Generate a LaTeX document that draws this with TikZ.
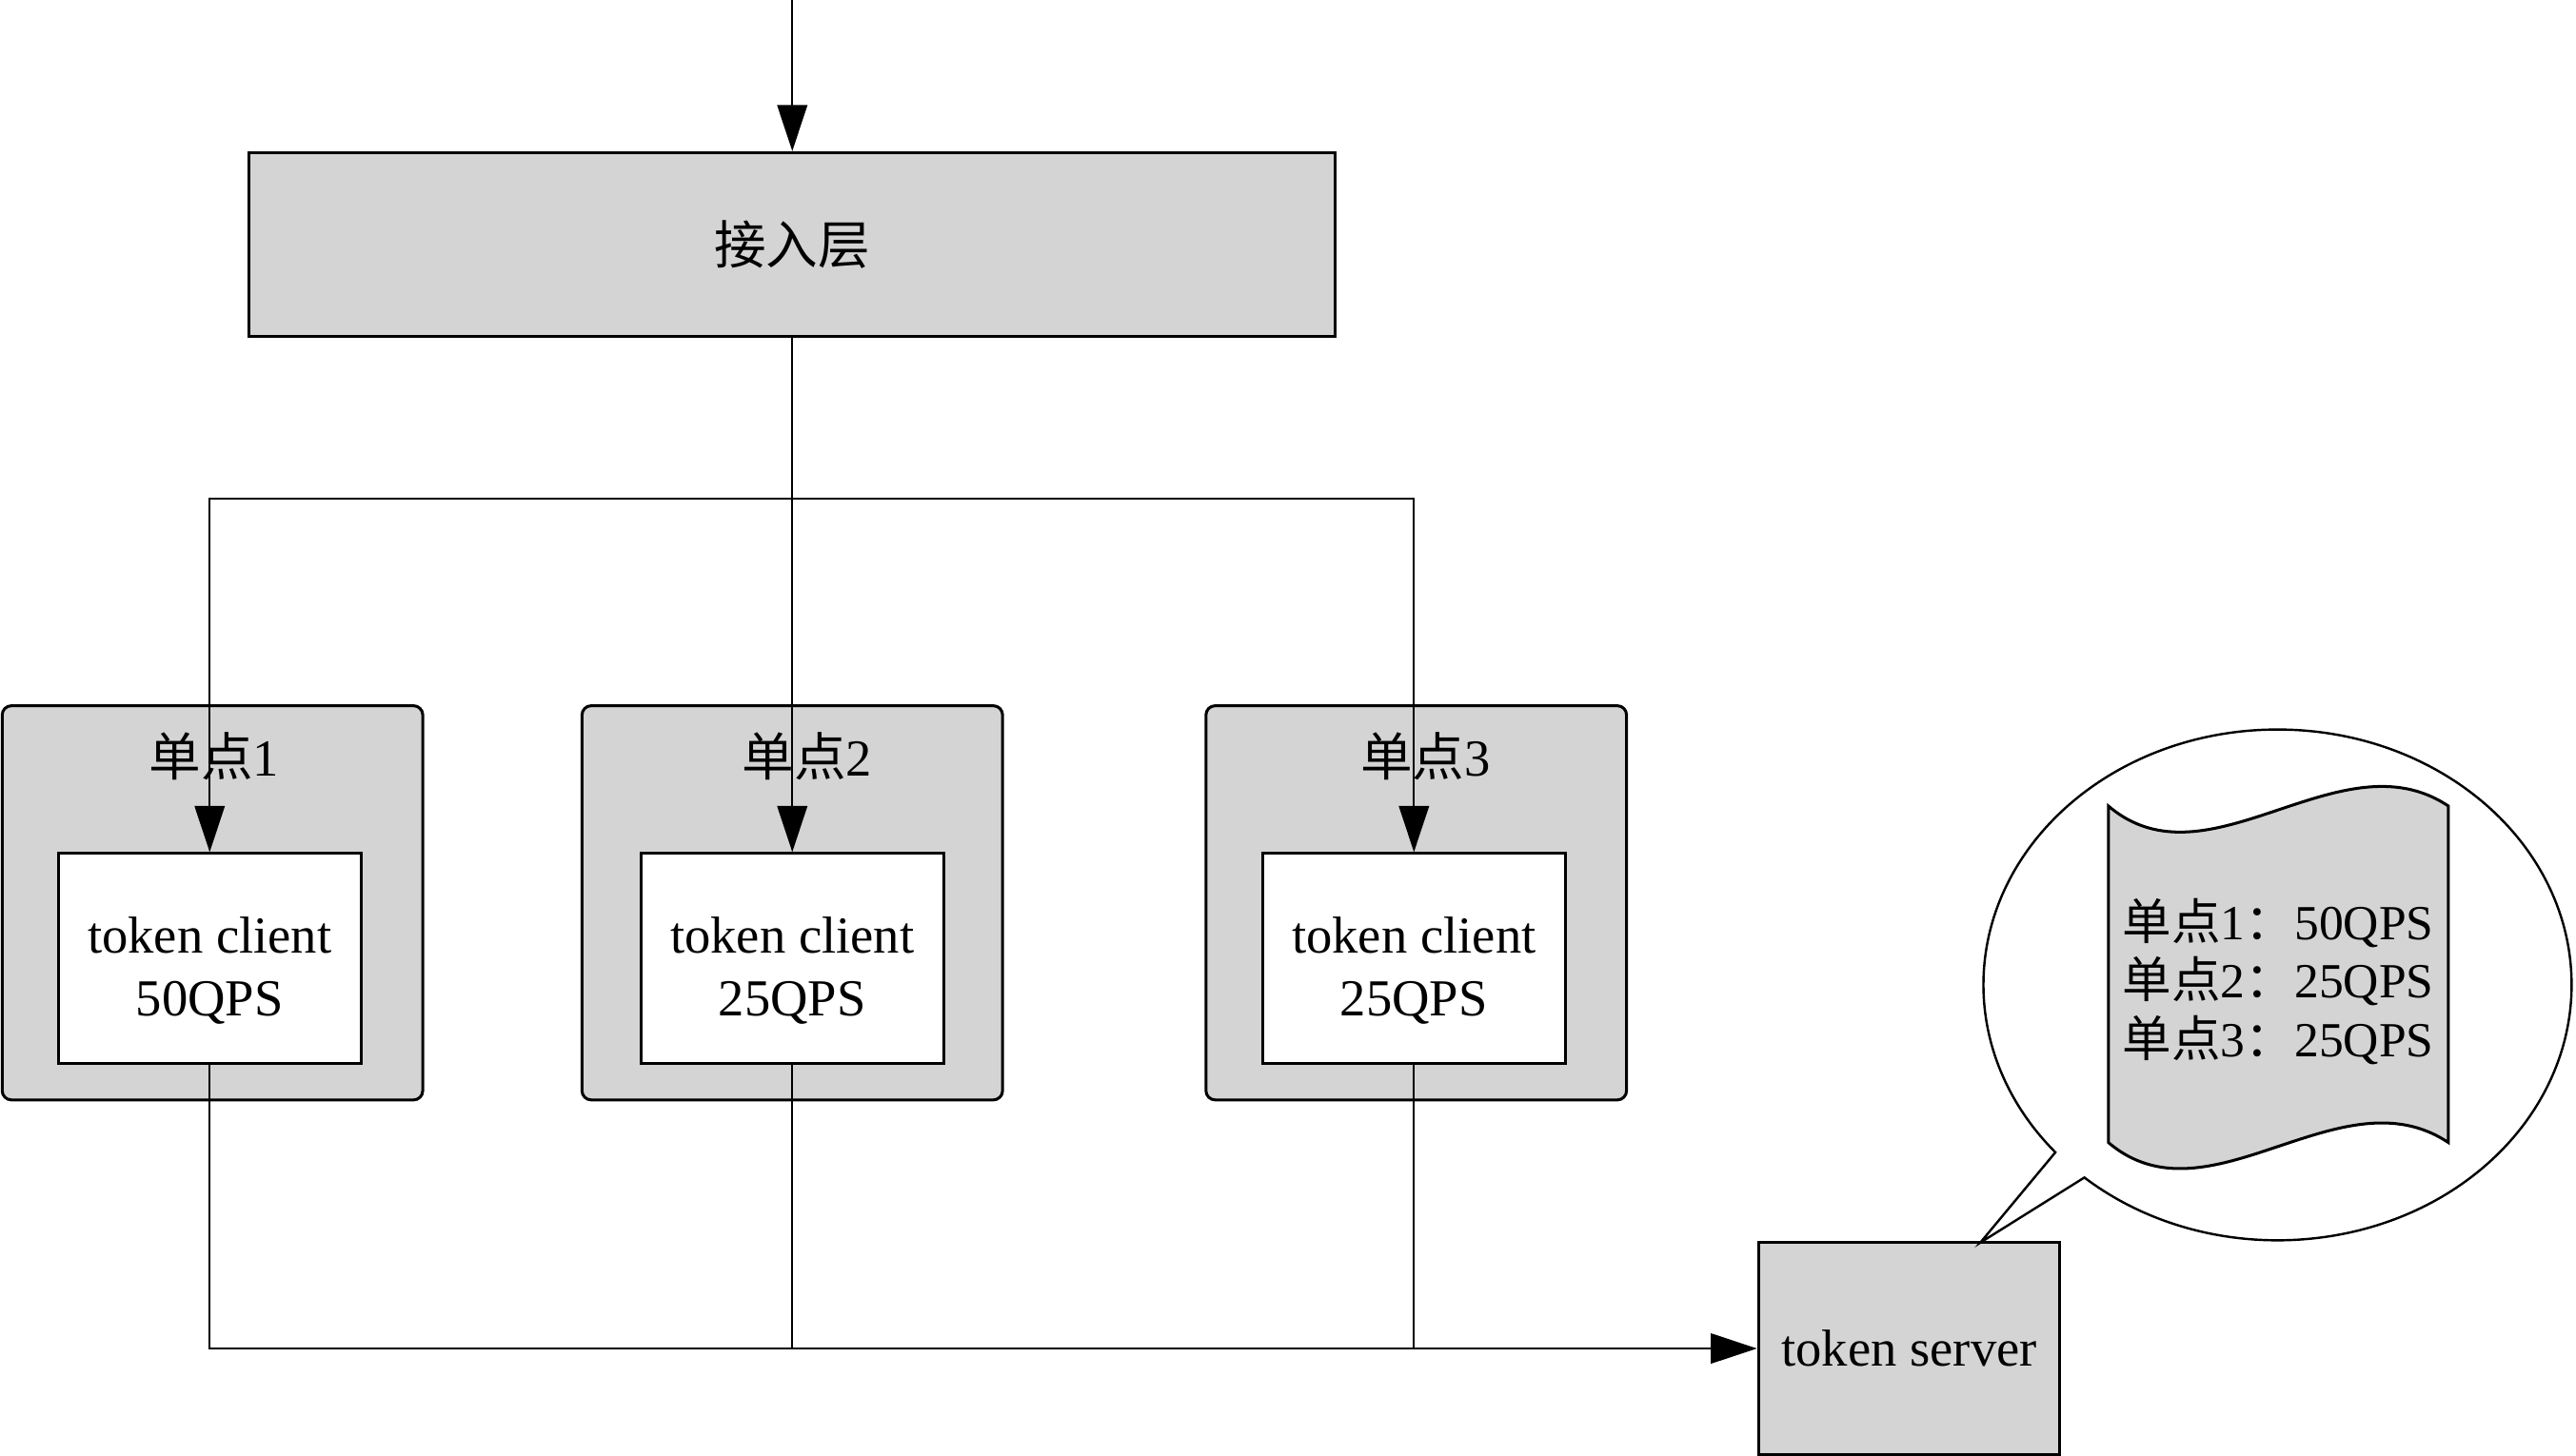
\documentclass[tikz,border=0pt]{standalone}
\usepackage{fontspec}
\setmainfont{Liberation Serif}
\newfontfamily\cjk{Noto Sans CJK SC}
\usepackage{tikz}
\usetikzlibrary{arrows.meta,positioning,shapes.callouts}
\definecolor{boxgray}{HTML}{D4D4D4}
\tikzset{
	>={Triangle[length=8pt,width=5.2pt]},
	flow/.style = {draw, line width=0.35pt},
	layer/.style = {
			draw, line width=0.5pt, fill=boxgray, rectangle,
		},
	site/.style = {
			draw, line width=0.5pt, fill=boxgray, rectangle, rounded corners=1.6pt,
			minimum width=2.56cm, minimum height=2.4cm,
		},
	client/.style = {
			draw, line width=0.5pt, fill=white, rectangle, align=center,
			minimum width=1.84cm, minimum height=1.28cm,
		}
}

\begin{document}
\begin{tikzpicture}[x=0.01cm, y=-0.01cm, font=\fontsize{9}{10.9}\selectfont]
	\useasboundingbox (0,0) rectangle (1568.8,887);

	\coordinate (entry) at (482.5,0);
	\node[layer, minimum width=6.61cm, minimum height=1.12cm] at (482.5,149) (access) {\cjk 接入层};

	\node[site] at (129.4,550) (site1) {};
	\node[site] at (482.5,550) (site2) {};
	\node[site] at (862.5,550) (site3) {};

	\node at (130.4,461) (site1label) {{\cjk 单点}1};
	\node at (491.5,461) (site2label) {{\cjk 单点}2};
	\node at (868.2,461) (site3label) {{\cjk 单点}3};

	\node[client] at (127.7,584) (client1) {\rule{0pt}{10.5pt}token client\\50QPS};
	\node[client] at (482.5,584) (client2) {\rule{0pt}{10.5pt}token client\\25QPS};
	\node[client] at (861.1,584) (client3) {\rule{0pt}{10.5pt}token client\\25QPS};

	\node[layer, minimum width=1.835cm, minimum height=1.29cm] at (1162.7,821.5) (server) {token server};

	\draw[flow, ->] (entry) -- (access.north);
	\coordinate (split) at (482.5,304);
	\draw[flow, ->] (access.south) -- (client2.north);
	\draw[flow, ->] (split) -| (client1.north);
	\draw[flow, ->] (split) -| (client3.north);

	\draw[flow, ->] (client1.south) |- (server.west);
	\draw[flow] (client2.south) -- (client2.south |- server.west);
	\draw[flow] (client3.south) -- (client3.south |- server.west);

	% callout with the per-site quota
	\coordinate (tip) at (1206,757);
	\node[ellipse callout, draw, line width=0.4pt, fill=white, minimum width=3.58cm, minimum height=3.11cm, callout absolute pointer={(tip)}, callout pointer arc=8] at (1387,600) (bubble) {};
	\draw[line width=0.5pt, fill=boxgray] (1284,491) .. controls (1345,543) and (1425,447) .. (1491,491) -- (1491,696) .. controls (1425,652) and (1345,748) .. (1284,696) -- cycle;
	\node[anchor=west, align=left, inner sep=0pt, font=\fontsize{8.5}{10.2}\selectfont] at (1292,598) (stats) {{\cjk 单点}1{\cjk ：}50QPS\\{\cjk 单点}2{\cjk ：}25QPS\\{\cjk 单点}3{\cjk ：}25QPS};
\end{tikzpicture}
\end{document}
